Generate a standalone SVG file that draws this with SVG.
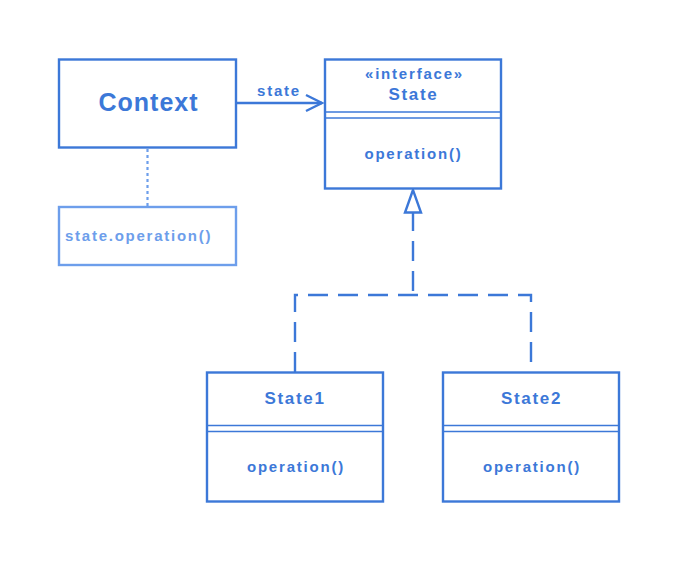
<svg xmlns="http://www.w3.org/2000/svg" width="679" height="563" viewBox="0 0 679 563">
  <style>
    .box { fill: #ffffff; stroke: #3c78d8; stroke-width: 2.4; }
    .note { fill: #ffffff; stroke: #6d9eeb; stroke-width: 2.4; }
    .sep { stroke: #3c78d8; stroke-width: 1.3; }
    .t { font-family: "Liberation Sans", Arial, sans-serif; font-weight: bold; fill: #3c78d8; text-anchor: middle; }
    .s14 { font-size: 15px; letter-spacing: 1.8px; }
    .s16 { font-size: 17px; letter-spacing: 1.7px; }
    .s23 { font-size: 25px; letter-spacing: 1px; }
    .nt { font-family: "Liberation Sans", Arial, sans-serif; font-weight: bold; fill: #6d9eeb; font-size: 15px; letter-spacing: 1.75px; }
    .conn { fill: none; stroke: #3c78d8; stroke-width: 2.4; }
  </style>
  <rect width="679" height="563" fill="#ffffff"/>

  <g id="connectors">
    <line class="conn" x1="236" y1="103" x2="322" y2="103"/>
    <polyline class="conn" points="306,95 322,103 306,111" stroke-width="2.6"/>
    <line x1="147.5" y1="149" x2="147.5" y2="206" stroke="#6d9eeb" stroke-width="2.2" stroke-dasharray="3,3"/>
    <polyline class="conn" points="295,372 295,295 531,295 531,372" stroke-dasharray="20,10"/>
    <line class="conn" x1="413" y1="211" x2="413" y2="295" stroke-dasharray="20,10"/>
    <polygon points="413,190 405,212.5 421,212.5" fill="#ffffff" stroke="#3c78d8" stroke-width="2.4" stroke-linejoin="miter"/>
  </g>

  <g id="context">
    <rect class="box" x="59" y="59.5" width="177" height="88"/>
    <text class="t s23" x="148.5" y="111">Context</text>
  </g>

  <g id="note">
    <rect class="note" x="59" y="207" width="177" height="58"/>
    <text class="nt" x="65" y="240.5">state.operation()</text>
  </g>

  <g id="label-state">
    <text class="t s14" x="279" y="96">state</text>
  </g>

  <g id="state">
    <rect class="box" x="325" y="59.5" width="176" height="129"/>
    <text class="t s14" x="414.5" y="79">«interface»</text>
    <text class="t s16" x="413.5" y="100">State</text>
    <line class="sep" x1="325" y1="112" x2="501" y2="112"/>
    <line class="sep" x1="325" y1="118" x2="501" y2="118"/>
    <text class="t s14" x="413.5" y="158.5">operation()</text>
  </g>

  <g id="state1">
    <rect class="box" x="207" y="372.5" width="176" height="129"/>
    <text class="t s16" x="295" y="404">State1</text>
    <line class="sep" x1="207" y1="425.5" x2="383" y2="425.5"/>
    <line class="sep" x1="207" y1="431.5" x2="383" y2="431.5"/>
    <text class="t s14" x="296" y="472">operation()</text>
  </g>

  <g id="state2">
    <rect class="box" x="443" y="372.5" width="176" height="129"/>
    <text class="t s16" x="531.5" y="404">State2</text>
    <line class="sep" x1="443" y1="425.5" x2="619" y2="425.5"/>
    <line class="sep" x1="443" y1="431.5" x2="619" y2="431.5"/>
    <text class="t s14" x="532" y="472">operation()</text>
  </g>
</svg>
